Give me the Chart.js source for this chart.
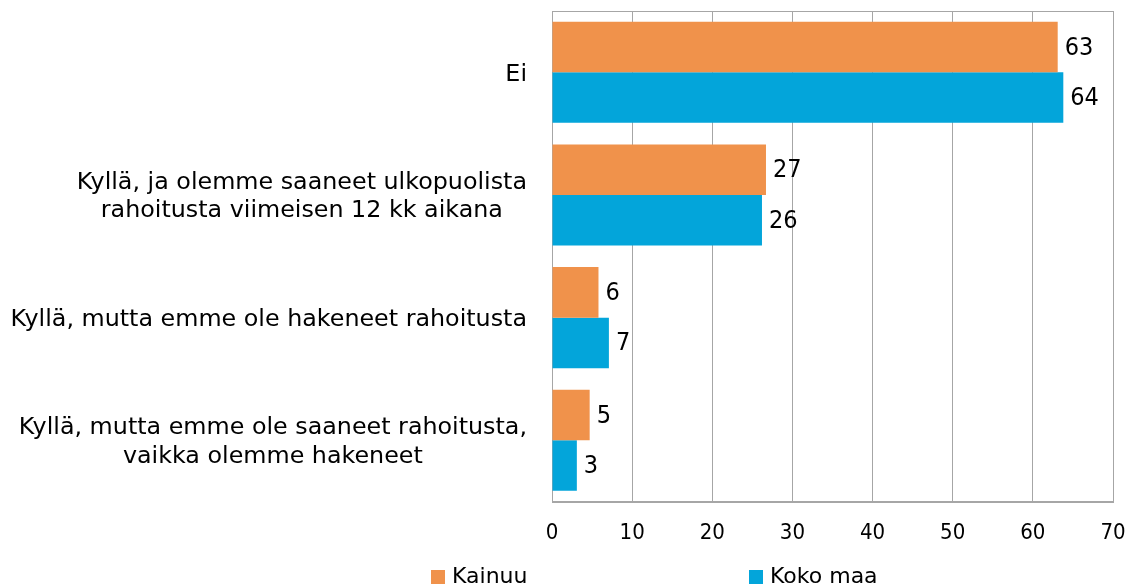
<!DOCTYPE html>
<html>
<head>
<meta charset="utf-8">
<script src="https://cdn.jsdelivr.net/npm/chart.js@4/dist/chart.umd.min.js"></script>
<style>
    html, body { margin: 0; padding: 0; background: #fff; overflow: hidden; }
    #wrap { width: 1126px; height: 585px; }
</style>
</head>
<body>
<div id="wrap"><canvas id="chart" width="1126" height="585"></canvas></div>
<script>
// ------------------------------
// Data
// ------------------------------
const categories = [
    ['Ei'],
    ['Kyllä, ja olemme saaneet ulkopuolista', 'rahoitusta viimeisen 12 kk aikana'],
    ['Kyllä, mutta emme ole hakeneet rahoitusta'],
    ['Kyllä, mutta emme ole saaneet rahoitusta,', 'vaikka olemme hakeneet']
];
const seriesNames = ['Kainuu', 'Koko maa'];
const kainuu = [63.1, 26.7, 5.8, 4.7];
const kokoMaa = [63.8, 26.2, 7.1, 3.1];
const xMin = 0;
const xMax = 70;
const xStep = 10;

const ORANGE = '#f0924b';
const BLUE = '#03a5da';
const GRID = '#a6a6a6';
const labelFont = "'DejaVu Sans', sans-serif";
const numFont = "'Liberation Sans Narrow', 'DejaVu Sans Condensed', sans-serif";

// draws the category labels: right aligned blocks, lines centred inside
const catLabels = {
    id: 'catLabels',
    afterDraw(chart) {
        const ctx = chart.ctx;
        const y = chart.scales.y;
        const lineH = 28.5;
        ctx.save();
        ctx.font = '23.8px ' + labelFont;
        ctx.fillStyle = '#000';
        ctx.textAlign = 'center';
        ctx.textBaseline = 'middle';
        categories.forEach((lines, i) => {
            const widths = lines.map(l => ctx.measureText(l).width);
            const block = Math.max(...widths);
            const right = y.right - 25;
            const cy = y.getPixelForTick(i) + 2;
            lines.forEach((l, j) => {
                ctx.fillText(l, right - block / 2, cy + (j - (lines.length - 1) / 2) * lineH);
            });
        });
        ctx.restore();
    }
};

// value labels at the end of each bar
const valueLabels = {
    id: 'valueLabels',
    afterDatasetsDraw(chart) {
        const ctx = chart.ctx;
        ctx.save();
        ctx.font = '25px ' + numFont;
        ctx.fillStyle = '#000';
        ctx.textAlign = 'left';
        ctx.textBaseline = 'middle';
        chart.data.datasets.forEach((ds, di) => {
            chart.getDatasetMeta(di).data.forEach((bar, i) => {
                ctx.fillText(String(Math.round(ds.data[i])), bar.x + 7, bar.y + 1);
            });
        });
        ctx.restore();
    }
};

// frame round the plot area
const frame = {
    id: 'frame',
    beforeDatasetsDraw(chart) {
        const a = chart.chartArea;
        const ctx = chart.ctx;
        ctx.save();
        ctx.strokeStyle = GRID;
        ctx.lineWidth = 1;
        ctx.strokeRect(Math.round(a.left) + 0.5, Math.round(a.top) + 0.5,
            Math.round(a.right - a.left), Math.round(a.bottom - a.top));
        ctx.restore();
    }
};

// legend spread wide across the bottom, like the original
const wideLegend = {
    id: 'wideLegend',
    afterDraw(chart) {
        const ctx = chart.ctx;
        const xs = [431, 749];
        ctx.save();
        ctx.font = '22px ' + labelFont;
        ctx.textBaseline = 'alphabetic';
        ctx.textAlign = 'left';
        chart.data.datasets.forEach((ds, i) => {
            ctx.fillStyle = ds.backgroundColor;
            ctx.fillRect(xs[i], 570, 14, 14);
            ctx.fillStyle = '#000';
            ctx.fillText(ds.label, xs[i] + 21, 583);
        });
        ctx.restore();
    }
};

new Chart(document.getElementById('chart'), {
    type: 'bar',
    data: {
        labels: categories,
        datasets: [
            { label: seriesNames[0], data: kainuu, backgroundColor: ORANGE },
            { label: seriesNames[1], data: kokoMaa, backgroundColor: BLUE }
        ]
    },
    options: {
        indexAxis: 'y',
        responsive: false,
        animation: false,
        devicePixelRatio: 1,
        categoryPercentage: 0.824,
        barPercentage: 1.0,
        layout: { padding: { top: 11, right: 13, bottom: 21, left: 0 } },
        plugins: {
            legend: { display: false },
            tooltip: { enabled: false }
        },
        scales: {
            x: {
                min: xMin,
                max: xMax,
                ticks: {
                    stepSize: xStep,
                    color: '#000',
                    padding: 18,
                    font: { family: numFont, size: 22 }
                },
                grid: { color: GRID, drawTicks: false },
                border: { color: GRID },
                afterFit: (s) => { s.paddingRight = 0; s.paddingLeft = 0; }
            },
            y: {
                ticks: { display: false },
                grid: { display: false },
                border: { color: GRID },
                afterFit: (s) => { s.width = 552; }
            }
        }
    },
    plugins: [frame, valueLabels, catLabels, wideLegend]
});
</script>
</body>
</html>
